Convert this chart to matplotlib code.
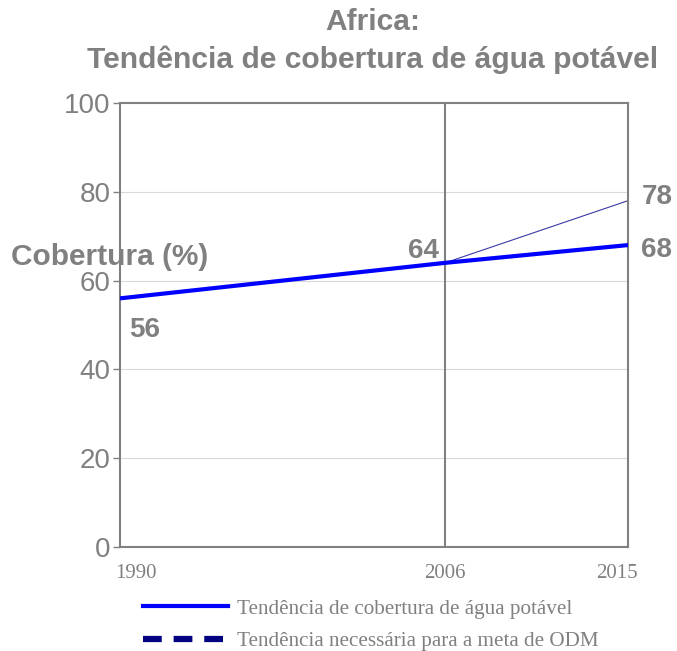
import matplotlib
matplotlib.use("Agg")
import matplotlib.pyplot as plt
from matplotlib.lines import Line2D

# dados
years = [1990, 2006, 2015]
coverage = [56, 64, 68]
target_years = [2006, 2015]
target = [64, 78]
yticks = [0, 20, 40, 60, 80, 100]
title1 = "Africa:"
title2 = "Tendência de cobertura de água potável"
ylabel = "Cobertura (%)"
legend_labels = ["Tendência de cobertura de água potável",
                 "Tendência necessária para a meta de ODM"]

GRAY = "#808080"
SANS = ["Liberation Sans", "DejaVu Sans"]
SERIF = ["Liberation Serif", "DejaVu Serif"]

fig = plt.figure(figsize=(6.77, 6.51), dpi=100)
ax = fig.add_axes([120/677, 1-547/651, 508/677, 444/651])
ax.set_xlim(1990, 2015)
ax.set_ylim(0, 100)

ax.set_yticks(yticks)
ax.set_yticklabels([str(v) for v in yticks], family=SANS, fontsize=20, color=GRAY)
ax.set_xticks([])
ax.tick_params(axis="y", length=5, width=1, color=GRAY, pad=2)
for s in ax.spines.values():
    s.set_color(GRAY); s.set_linewidth(1.5)
for v in yticks[1:-1]:
    ax.axhline(v, color="#d9d9d9", lw=0.8, zorder=0)
ax.axvline(2006, color=GRAY, lw=1.5, zorder=1)

# rótulos do eixo x (posição como no original)
for yr, dx in zip(years, [16, 0, -11]):
    ax.annotate(str(yr), (yr, 0), xytext=(dx, -26), textcoords="offset pixels",
                family=SERIF, fontsize=15, color=GRAY, ha="center", va="center",
                annotation_clip=False)

ax.plot(target_years, target, color="#3a3aa8", lw=0.8, zorder=2)
ax.plot(years, coverage, color="#0000ff", lw=3, zorder=3, solid_capstyle="butt")

lab = dict(family=SANS, fontsize=20, fontweight="bold", color=GRAY,
           ha="center", va="center", textcoords="offset pixels")
ax.annotate(str(coverage[0]), (years[0], coverage[0]), xytext=(25, -32), **lab)
ax.annotate(str(coverage[1]), (years[1], coverage[1]), xytext=(-22, 12), **lab)
ax.annotate(str(target[1]), (target_years[1], target[1]), xytext=(29, 4), **lab)
ax.annotate(str(coverage[2]), (years[2], coverage[2]), xytext=(29, -5), **lab)

fig.text(373/677, 1-22/651, title1, family=SANS, fontsize=21.6, fontweight="bold",
         color=GRAY, ha="center", va="center")
fig.text(373/677, 1-60/651, title2, family=SANS, fontsize=21.6, fontweight="bold",
         color=GRAY, ha="center", va="center")
fig.text(110/677, 1-257/651, ylabel, family=SANS, fontsize=21.5, fontweight="bold",
         color=GRAY, ha="center", va="center")

handles = [Line2D([], [], color="#0000ff", lw=3),
           Line2D([], [], color="#000080", lw=4.5, linestyle=(0, (3.0, 1.9)))]
fig.legend(handles, legend_labels, loc="upper left",
           bbox_to_anchor=(143/677, 1-599/651), frameon=False,
           prop=dict(family=SERIF, size=15.2), labelcolor=GRAY,
           handlelength=4.03, handletextpad=0.43, labelspacing=0.6,
           borderaxespad=0, borderpad=0)

fig.savefig("out.png", dpi=100)
